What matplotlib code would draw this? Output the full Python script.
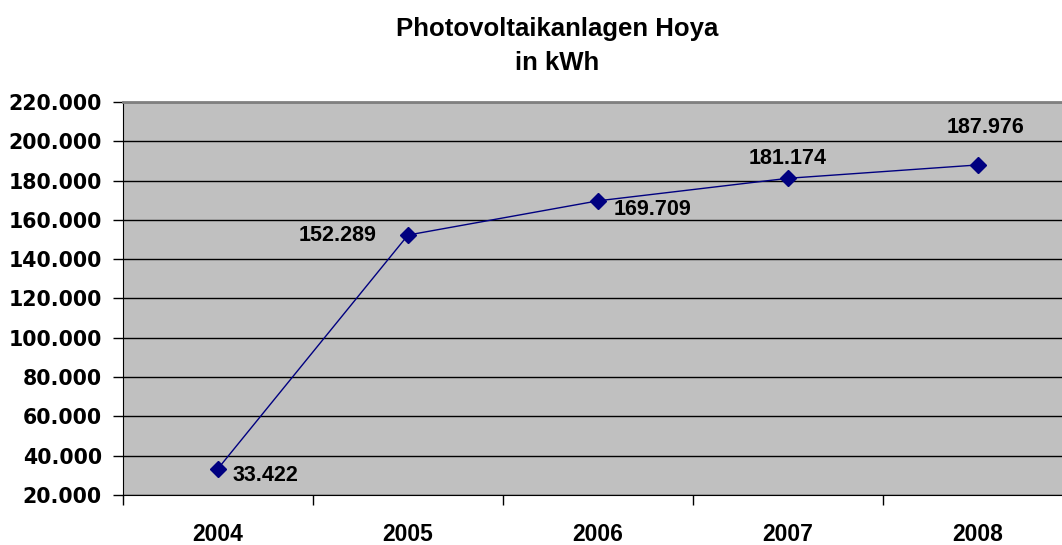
import matplotlib.pyplot as plt
from matplotlib.ticker import FuncFormatter, MultipleLocator

plt.rcParams['font.family'] = ['Liberation Sans', 'DejaVu Sans']

# Daten
jahre = ['2004', '2005', '2006', '2007', '2008']
kwh = [33422, 152289, 169709, 181174, 187976]
# Beschriftungs-Versatz (Pixel) und Ausrichtung je Punkt
label_offsets = [(15, -7), (-31, 0), (16, -9), (0, 20), (8, 37)]
label_ha = ['left', 'right', 'left', 'center', 'center']

def tausender(v, pos=None):
    return f"{v:,.0f}".replace(',', '.')

W, H = 1062, 545
fig = plt.figure(figsize=(W / 100, H / 100), dpi=100)
ax = fig.add_axes([123 / W, 50 / H, 950 / W, 393 / H])
ax.set_facecolor('#C0C0C0')

x = list(range(len(jahre)))
ax.plot(x, kwh, color='#000080', lw=1, marker='D', markersize=8,
        markerfacecolor='#000080', markeredgecolor='#000080', zorder=3,
        clip_on=False)

for i, v in enumerate(kwh):
    ax.annotate(tausender(v), (x[i], v), xytext=label_offsets[i],
                textcoords='offset pixels', ha=label_ha[i], va='center',
                fontsize=15.5, fontweight='bold', color='black')

ax.set_ylim(20000, 220000)
ax.yaxis.set_major_locator(MultipleLocator(20000))
ax.yaxis.set_major_formatter(FuncFormatter(tausender))
ax.grid(axis='y', color='black', lw=1)
ax.set_axisbelow(True)

ax.set_xlim(-0.5, len(jahre) - 0.5)
ax.set_xticks([i - 0.5 for i in range(len(jahre) + 1)], minor=False)
ax.set_xticklabels([])
ax.set_xticks(x, minor=True)
ax.set_xticklabels(jahre, minor=True)
ax.tick_params(axis='x', which='minor', length=0, pad=20, labelsize=16.5)
ax.tick_params(axis='x', which='major', length=7.2, width=1, direction='out')
ax.tick_params(axis='y', length=7.2, width=1, direction='out', labelsize=14.8, pad=8)
for lbl in ax.get_yticklabels():
    lbl.set_fontweight('bold')
    lbl.set_family('DejaVu Sans')
for lbl in ax.get_xticklabels(minor=True):
    lbl.set_fontweight('bold')

ax.spines['top'].set_color('#808080')
ax.spines['top'].set_linewidth(2)
ax.spines['right'].set_visible(False)
ax.spines['left'].set_color('black')
ax.spines['bottom'].set_color('black')

fig.text(557 / W, 1 - 36 / H, 'Photovoltaikanlagen Hoya', ha='center',
         va='baseline', fontsize=18.5, fontweight='bold')
fig.text(557 / W, 1 - 70 / H, 'in kWh', ha='center',
         va='baseline', fontsize=18.5, fontweight='bold')

fig.savefig('out.png', dpi=100)
